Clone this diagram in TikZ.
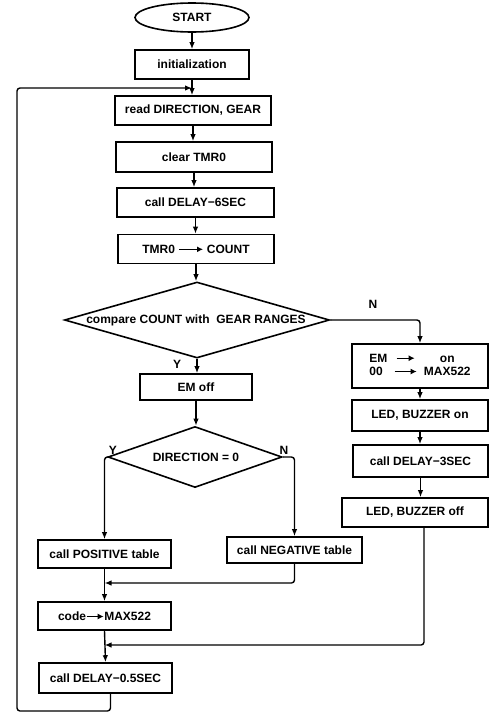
\documentclass[tikz,border=0pt]{standalone}
\usepackage{fontspec}
\setmainfont{Liberation Sans}
\usetikzlibrary{shapes.geometric,arrows.meta,calc}
\newcommand{\rarr}[1]{\tikz[baseline=-3.8pt]{\draw[line width=1.3pt,-{Latex[length=6pt,width=6pt]}] (0pt,0pt) -- (#1,0pt);}}
\newcommand{\mns}{{\char"2212}}
\begin{document}
\begin{tikzpicture}[x=1pt,y=-1pt,line width=1.6pt,
  txt/.style={font=\fontsize{12}{14}\selectfont\bfseries},
  box/.style={draw,rectangle,line width=1.6pt,inner sep=0pt,txt},
  dia/.style={draw,diamond,line width=1.6pt,inner sep=0pt},
  ar/.style={-{Latex[length=7pt,width=5.5pt]},line width=1.4pt,rounded corners=3pt},
  lab/.style={txt,inner sep=0pt}]
\useasboundingbox (0,0) rectangle (489,715);
% main column
\node[draw,ellipse,line width=1.6pt,inner sep=0pt,txt,minimum width=114pt,minimum height=29pt] (start) at (192,17.5) {START};
\node[box,minimum width=114pt,minimum height=29pt] (init) at (192,64.5) {initialization};
\node[box,minimum width=156pt,minimum height=29pt] (read) at (193,110.5) {read DIRECTION, GEAR};
\node[box,minimum width=156pt,minimum height=30pt] (clear) at (194,157) {clear TMR0};
\node[box,minimum width=157pt,minimum height=29pt] (d6) at (195.5,202.5) {call DELAY\mns6SEC};
\node[box,minimum width=156pt,minimum height=29pt] (tmr) at (196,249) {TMR0 \rarr{24pt} COUNT};
\node[dia,minimum width=265pt,minimum height=76pt] (cmp) at (197,320) {};
\node[lab] (cmptxt) at (196,320) {compare COUNT with\ \ GEAR RANGES};
\node[box,minimum width=112pt,minimum height=26pt] (emoff) at (196,387) {EM off};
\node[dia,minimum width=174pt,minimum height=61pt] (dir) at (195,457) {};
\node[lab] (dirtxt) at (196,457) {DIRECTION = 0};
\node[box,minimum width=133pt,minimum height=28pt] (pos) at (104.5,554) {call POSITIVE table};
\node[box,minimum width=135pt,minimum height=26pt] (neg) at (294.5,550) {call NEGATIVE table};
\node[box,minimum width=133pt,minimum height=28pt] (code) at (104.5,616) {code\rarr{17pt}MAX522};
\node[box,minimum width=133pt,minimum height=30pt] (d05) at (105.5,678) {call DELAY\mns0.5SEC};
% right column
\node[box,minimum width=136pt,minimum height=44pt] (em) at (420,366) {\renewcommand{\arraystretch}{0.95}\begin{tabular}{@{}l@{\ \ }c@{\ \ }c@{}}EM & \rarr{18pt} & on\\ 00 & \rarr{22pt} & MAX522\end{tabular}};
\node[box,minimum width=136pt,minimum height=31pt] (ledon) at (420,415.5) {LED, BUZZER on};
\node[box,minimum width=135pt,minimum height=32pt] (d3) at (420.5,461) {call DELAY\mns3SEC};
\node[box,minimum width=146pt,minimum height=29pt] (ledoff) at (415,512.5) {LED, BUZZER off};
% labels
\node[lab] (ycmp) at (177,364) {Y};
\node[lab] (ncmp) at (373,304) {N};
\node[lab] (ydir) at (113,450) {Y};
\node[lab] (ndir) at (284,450) {N};
% helper coordinates
\coordinate (jl) at (192,88);
\coordinate (m1) at (104.5,583);
\coordinate (m2) at (104.5,645);
\coordinate (lb) at (17,711);
% connectors
\draw[ar] (start) -- (init);
\draw[ar] (init.south) -- (init.south |- read.north);
\draw[ar] (read.south) -- (read.south |- clear.north);
\draw[ar] (clear.south) -- (clear.south |- d6.north);
\draw[ar] (d6.south) -- (d6.south |- tmr.north);
\draw[ar] (tmr.south) -- (tmr.south |- cmp.north);
\draw[ar] (cmp.south) -- (cmp.south |- emoff.north);
\draw[ar] (emoff.south) -- (emoff.south |- dir.north);
\draw[ar] (dir.west) -| (pos.north);
\draw[ar] (dir.east) -| (neg.north);
\draw[ar] (neg.south) |- (m1);
\draw[ar] (pos.south) -- (code.north);
\draw[ar] (code.south) -- (d05.north);
\draw[ar] (cmp.east) -| (em.north);
\draw[ar] (em.south) -- (em.south |- ledon.north);
\draw[ar] (ledon.south) -- (ledon.south |- d3.north);
\draw[ar] (d3.south) -- (d3.south |- ledoff.north);
\draw[ar] ($(ledoff.south)+(9,0)$) |- (m2);
\draw[ar] ($(d05.south)+(5,0)$) |- (lb) |- (jl);
\end{tikzpicture}
\end{document}
